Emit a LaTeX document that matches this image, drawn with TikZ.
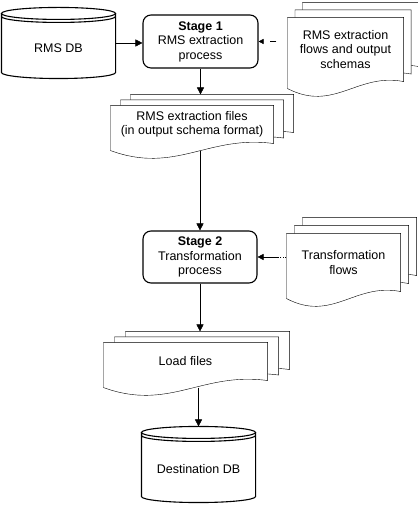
\documentclass[tikz,border=0pt]{standalone}
\usepackage{fontspec}
\setmainfont{Liberation Sans}
\usetikzlibrary{arrows.meta,calc,backgrounds}
% database drawn round a node
\newcommand{\dbshape}[1]{\draw let \p1=(#1.south west),\p2=(#1.north east),\n1={(\x2-\x1)/2} in
  (\x1,\y2-6pt)--(\x1,\y1+6pt) arc[start angle=180,end angle=360,x radius=\n1,y radius=6pt]--(\x2,\y2-6pt)
  (\x1+\n1,\y2-6pt) ellipse[x radius=\n1,y radius=6pt]
  (\x1,\y2-9pt) arc[start angle=180,end angle=360,x radius=\n1,y radius=6pt];}
% three stacked pages behind a node: node, dx, dy
\newcommand{\docstack}[3]{\begin{pgfonlayer}{background}
  \foreach \k in {2,1,0}{\draw[page] let \p1=([shift={(\k*#2,\k*#3-7)}]#1.south west),\p2=([shift={(\k*#2,\k*#3)}]#1.north east),\n1={0.4*(\x2-\x1)} in
    (\x1,\y2)--(\x1,\y1) .. controls +(\n1,-24pt) and +(-\n1,9pt) .. (\x2,\y1+7pt)--(\x2,\y2)--cycle;}
  \end{pgfonlayer}
  \coordinate(#1bot)at([yshift=-7pt]#1.south);}
\begin{document}
\begin{tikzpicture}[x=1pt,y=1pt,line width=1.1pt,font=\fontsize{12.5}{14.5}\selectfont,
  stagebox/.style={draw,rounded corners=8pt,align=center,inner sep=2pt},
  dbnode/.style={minimum width=113pt,text height=19pt,text depth=0pt},
  docnode/.style={align=center,inner sep=2pt},
  page/.style={draw,fill=white},
  flow/.style={-{Triangle[length=7pt,width=7pt]}},
  hint/.style={-{Triangle[length=5pt,width=5pt]},dash pattern=on 0pt off 11pt on 6pt off 20pt},
  hintdot/.style={-{Triangle[length=6pt,width=6pt]},dash pattern=on 1pt off 1.5pt on 1pt off 1.5pt on 1pt off 1.5pt on 20pt}]
\useasboundingbox (0,0) rectangle (417,505);
\node[dbnode,minimum height=70pt](rmsdb)at(58.5,462){RMS DB};
\node[stagebox,minimum width=115pt,minimum height=53pt](stage1)at(200.5,463.5){\textbf{Stage 1}\\RMS extraction\\process};
\node[docnode,minimum width=115pt,minimum height=63pt](flows)at(345.5,455.5){RMS extraction\\flows and output\\schemas};
\node[docnode,minimum width=162pt,minimum height=37pt](files)at(192,380.5){RMS extraction files\\(in output schema format)};
\node[stagebox,minimum width=114pt,minimum height=52pt](stage2)at(200,248){\textbf{Stage 2}\\Transformation\\process};
\node[docnode,minimum width=113pt,minimum height=57pt](tflows)at(343.5,242.5){Transformation\\flows};
\node[docnode,minimum width=163pt,minimum height=37pt](loadf)at(185.5,143.5){Load files};
\node[dbnode,minimum height=75pt](destdb)at(198.5,40.5){Destination DB};
\dbshape{rmsdb}\dbshape{destdb}
\docstack{flows}{7.5}{7.5}\docstack{files}{10}{5.5}\docstack{tflows}{8}{8}\docstack{loadf}{11}{5.5}
\draw[flow](rmsdb.east)--(rmsdb.east-|stage1.west);
\draw[hint](flows.west|-stage1.east)--(stage1.east);
\draw[flow,shorten >=11pt](stage1.south)--(stage1.south|-files.north);
\draw[flow](filesbot-|stage2.north)--(stage2.north);
\draw[hintdot](tflows.west|-stage2.east)--(stage2.east);
\draw[flow,shorten >=11pt](stage2.south)--(stage2.south|-loadf.north);
\draw[flow](loadfbot-|destdb.north)--(destdb.north);
\end{tikzpicture}
\end{document}
